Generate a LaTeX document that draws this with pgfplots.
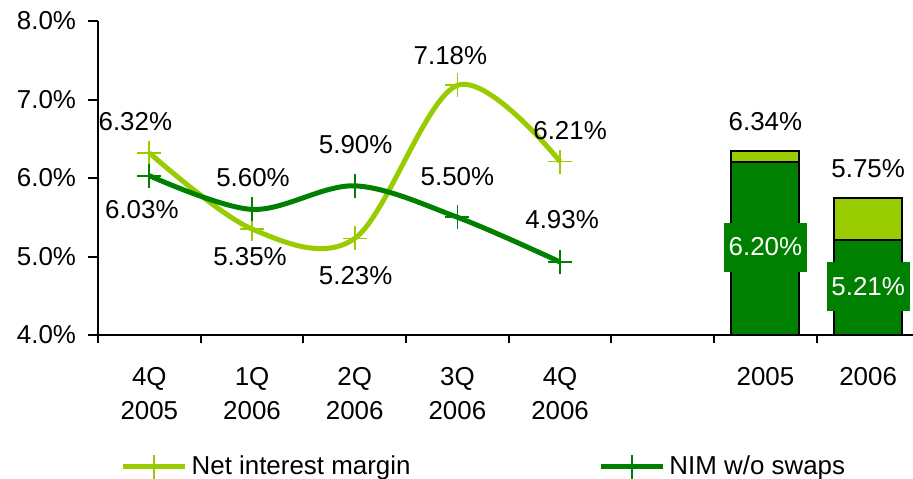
\documentclass[border=0pt]{standalone}
\usepackage{pgfplots}
\pgfplotsset{compat=1.18}
\usepackage{fontspec}
\setmainfont{Liberation Sans}
\definecolor{nimlight}{HTML}{99CC00}
\definecolor{nimdark}{HTML}{008000}

\begin{document}
\begin{tikzpicture}[font=\fontsize{13}{17}\selectfont]
\path[use as bounding box] (-49bp,-72bp) rectangle (407.5bp,167.5bp);
\begin{axis}[
  at={(0,0)}, anchor=south west,
  scale only axis, width=407.5bp, height=157bp,
  xmin=-0.5, xmax=7.437, ymin=4, ymax=8,
  axis lines*=left,
  axis line style={line width=1bp, black},
  clip mode=individual,
  ytick={4,5,6,7,8},
  yticklabel={\pgfmathprintnumber[fixed,fixed zerofill,precision=1]{\tick}\%},
  yticklabel style={xshift=-2.5bp},
  /pgf/number format/assume math mode=true,
  xtick={0,...,7},
  xticklabels={{4Q\\2005},{1Q\\2006},{2Q\\2006},{3Q\\2006},{4Q\\2006},{},{2005},{2006}},
  xticklabel style={align=center, yshift=-7.5bp},
  minor xtick={-0.5,0.5,...,6.5},
  major x tick style={draw=none},
  tick align=outside,
  major tick length=5bp, minor tick length=4bp,
  tick style={black, line width=1bp},
  legend columns=2,
  legend cell align=left,
  legend style={draw=none, fill=none, at={(0.02,-0.42)}, anchor=west,
    /tikz/every even column/.append style={column sep=92bp}},
  legend image code/.code={\draw[mark repeat=2,mark phase=2,#1]
    plot coordinates {(0bp,0bp) (15.5bp,0bp) (31bp,0bp)};},
]
% annual bars: full margin behind, margin without swaps in front
\addplot[ybar, bar width=34bp, bar shift=0pt, fill=nimlight, draw=black,
  line width=1bp, forget plot] coordinates {(6,6.34) (7,5.75)};
\addplot[ybar, bar width=34bp, bar shift=0pt, fill=nimdark, draw=black,
  line width=1bp, forget plot] coordinates {(6,6.20) (7,5.21)};

% quarterly margins
\addplot[nimlight, line width=2.5bp, smooth, tension=0.55, mark=+, mark size=6bp,
  mark options={line width=0.9bp}]
  coordinates {(0,6.32) (1,5.35) (2,5.23) (3,7.18) (4,6.21)};
\addlegendentry{Net interest margin}
\addplot[nimdark, line width=2.5bp, smooth, tension=0.55, mark=+, mark size=6bp,
  mark options={line width=0.9bp}]
  coordinates {(0,6.03) (1,5.60) (2,5.90) (3,5.50) (4,4.93)};
\addlegendentry{NIM w/o swaps}

% value labels
\node[xshift=-7bp, yshift=15.5bp] at (axis cs:0,6.32) {6.32\%};
\node[xshift=-3.75bp, yshift=-17bp] at (axis cs:0,6.03) {6.03\%};
\node[xshift=0.5bp, yshift=16bp] at (axis cs:1,5.60) {5.60\%};
\node[xshift=-1bp, yshift=-14bp] at (axis cs:1,5.35) {5.35\%};
\node[xshift=0.5bp, yshift=20.5bp] at (axis cs:2,5.90) {5.90\%};
\node[xshift=0.5bp, yshift=-18.5bp] at (axis cs:2,5.23) {5.23\%};
\node[xshift=-3.5bp, yshift=15bp] at (axis cs:3,7.18) {7.18\%};
\node[yshift=20.5bp] at (axis cs:3,5.50) {5.50\%};
\node[xshift=5bp, yshift=15.5bp] at (axis cs:4,6.21) {6.21\%};
\node[xshift=1bp, yshift=21bp] at (axis cs:4,4.93) {4.93\%};
\node[yshift=15bp] at (axis cs:6,6.34) {6.34\%};
\node[yshift=14.5bp] at (axis cs:7,5.75) {5.75\%};
\node[fill=nimdark, text=white, minimum width=41.5bp, minimum height=24.5bp, inner sep=0pt]
  at (axis cs:6,5.12) {6.20\%};
\node[fill=nimdark, text=white, minimum width=41.5bp, minimum height=24.5bp, inner sep=0pt]
  at (axis cs:7,4.62) {5.21\%};
\end{axis}
\end{tikzpicture}
\end{document}
